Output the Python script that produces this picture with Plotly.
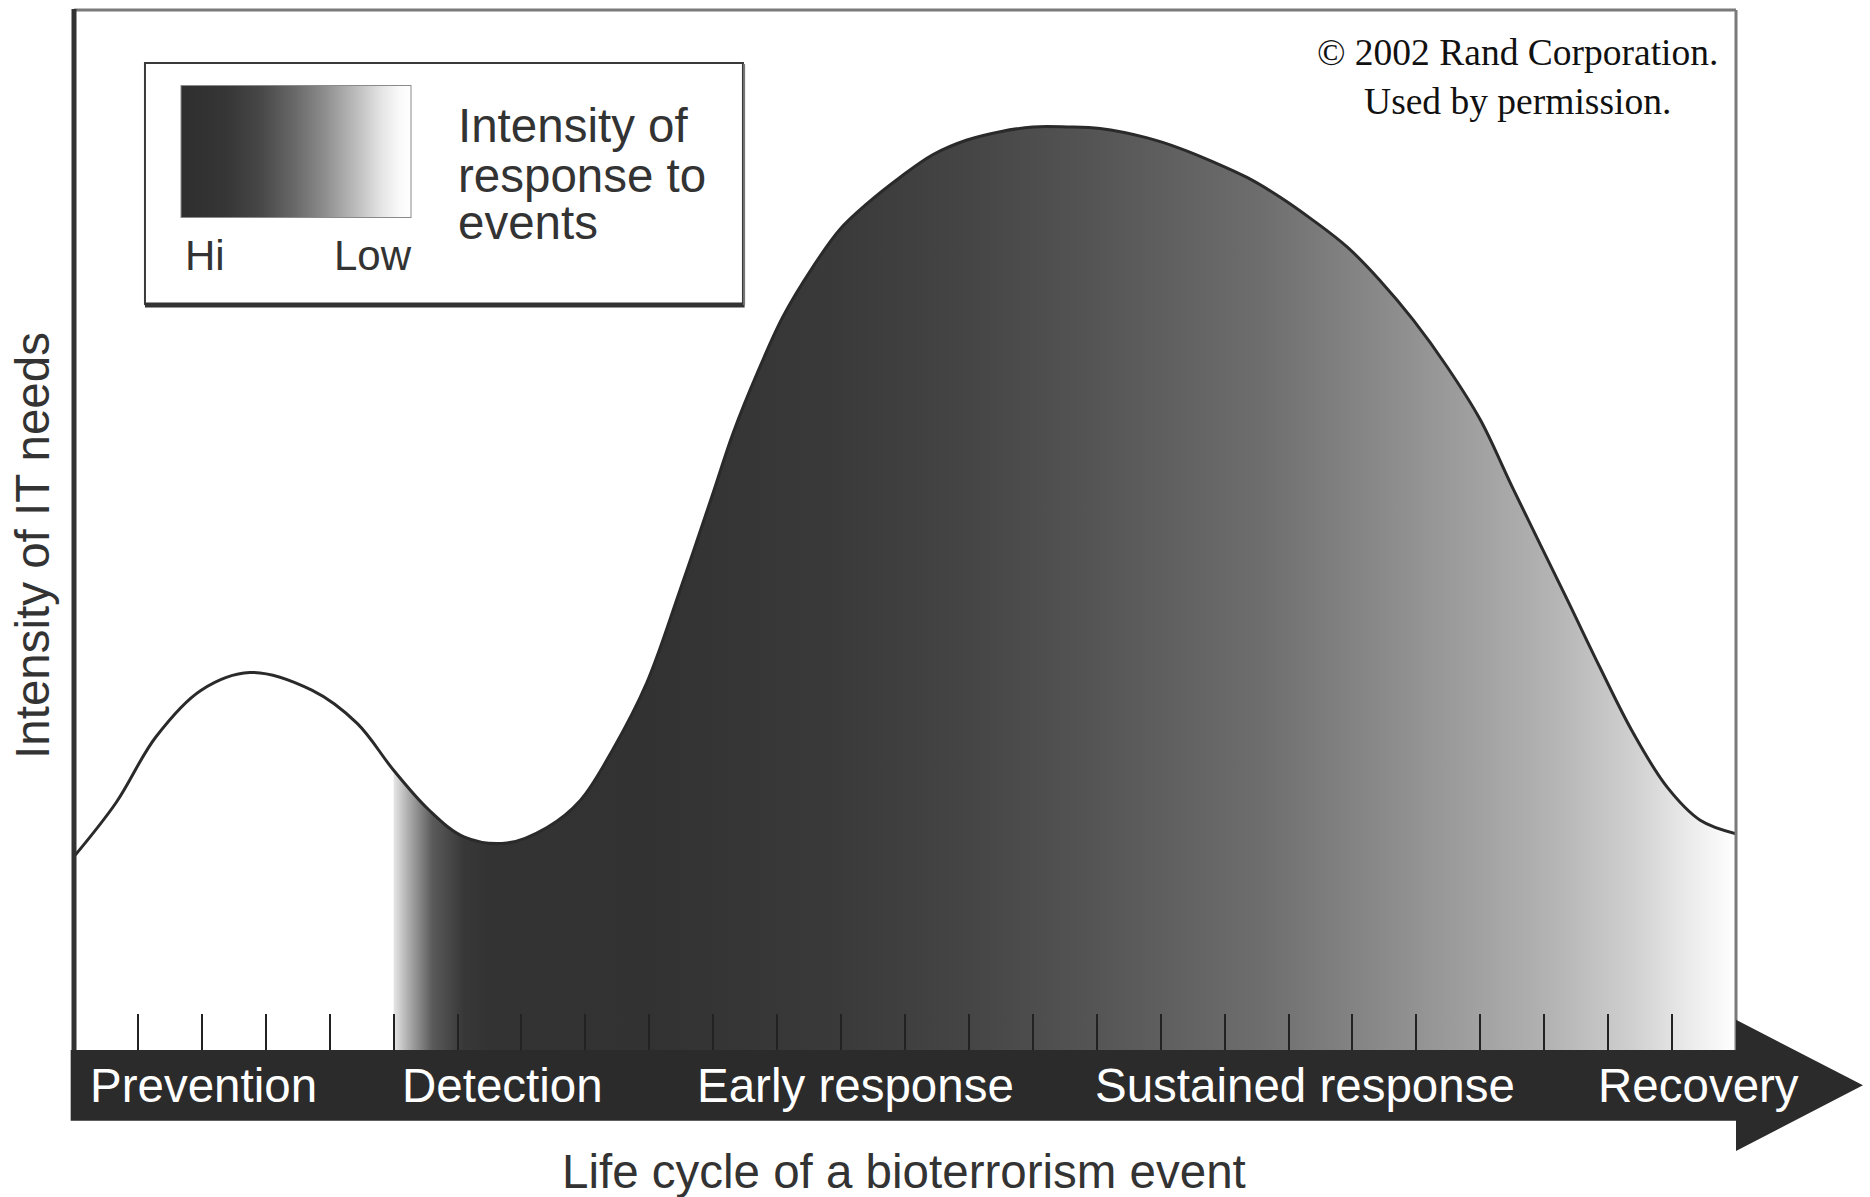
import plotly.graph_objects as go

# ---- data ----
curve_x = [0.0, 0.66, 1.28, 1.99, 2.75, 3.72, 4.43, 5.0, 5.55, 6.10, 6.77, 7.40, 7.92, 8.43,
           8.96, 9.48, 10.00, 10.31, 10.69, 11.09, 11.56, 11.98, 12.41, 12.92, 13.44, 13.97,
           14.49, 15.00, 15.54, 16.05, 16.79, 17.30, 17.82, 18.35, 18.87, 19.38, 19.92, 20.43,
           20.95, 21.48, 22.00, 22.51, 23.36, 23.87, 24.39, 24.92, 25.44, 26.0]
curve_y = [18.6, 23.8, 30.1, 34.6, 36.3, 34.6, 31.4, 26.9, 23.1, 20.5, 19.9, 21.4, 24.0, 28.9,
           35.3, 44.2, 53.6, 59.3, 65.1, 70.5, 75.3, 78.9, 81.4, 83.9, 86.1, 87.5,
           88.3, 88.75, 88.75, 88.6, 87.7, 86.7, 85.4, 83.9, 82.0, 79.8, 77.2, 74.0,
           70.2, 65.7, 60.6, 54.0, 43.3, 36.8, 30.5, 25.3, 22.1, 20.8]

response_onset = 5.0          # where the response shading starts (Detection)
phase_labels = ["Prevention", "Detection", "Early response", "Sustained response", "Recovery"]
phase_centers = [2.03, 6.70, 12.23, 19.26, 25.41]
tick_positions = [1, 2, 3, 4, 5, 6, 7, 8, 9, 10, 11, 12, 13, 14, 15, 16, 17, 18, 19, 20,
                  21, 22, 23, 24, 25]
legend_lines = ["Intensity of", "response to", "events"]
x_title = "Life cycle of a bioterrorism event"
y_title = "Intensity of IT needs"
credit = "© 2002 Rand Corporation.<br>Used by permission."

# ---- styles ----
fill_scale = [
    [0.0, "#e6e6e6"], [0.012, "#a8a8a8"], [0.029, "#5a5a5a"], [0.052, "#383838"],
    [0.071, "#333333"], [0.19, "#323232"], [0.333, "#3a3a3a"], [0.429, "#454545"],
    [0.524, "#555555"], [0.648, "#6e6e6e"], [0.771, "#959595"], [0.862, "#b3b3b3"],
    [0.924, "#d0d0d0"], [0.967, "#ececec"], [1.0, "#ffffff"],
]
swatch_scale = [
    [0.0, "#2e2e2e"], [0.2, "#363636"], [0.35, "#484848"], [0.5, "#6a6a6a"],
    [0.62, "#8c8c8c"], [0.75, "#b8b8b8"], [0.87, "#e4e4e4"], [0.95, "#fafafa"], [1.0, "#ffffff"],
]
SANS = "Liberation Sans, Arial, Helvetica, sans-serif"
SERIF = "Liberation Serif, Times New Roman, serif"
TXT = "#333333"
FS = 47.5

fill_x = [x for x in curve_x if x >= response_onset]
fill_y = [y for x, y in zip(curve_x, curve_y) if x >= response_onset]

fig = go.Figure()

fig.add_trace(go.Scatter(
    x=fill_x, y=fill_y, mode="lines", line=dict(width=0, shape="spline", smoothing=1.0),
    fill="tozeroy",
    fillgradient=dict(type="horizontal", colorscale=fill_scale,
                      start=response_onset, stop=max(curve_x)),
    hoverinfo="skip", showlegend=False,
))
fig.add_trace(go.Scatter(
    x=curve_x, y=curve_y, mode="lines",
    line=dict(color="#2a2a2a", width=3, shape="spline", smoothing=1.0),
    hoverinfo="skip", showlegend=False,
))
# intensity legend swatch (colour bar)
fig.add_trace(go.Scatter(
    x=[curve_x[0]], y=[curve_y[0]], mode="markers",
    marker=dict(color=[0], cmin=0, cmax=1, colorscale=swatch_scale, opacity=0, size=1,
                showscale=True,
                colorbar=dict(orientation="h", x=0.1336, xanchor="center",
                              y=0.8635, yanchor="middle",
                              lenmode="pixels", len=230, thicknessmode="pixels",
                              thickness=132, xpad=0, ypad=0,
                              outlinewidth=1, outlinecolor="#8a8a8a",
                              showticklabels=False, ticks="")),
    hoverinfo="skip", showlegend=False,
))

fig.update_xaxes(range=[0, 26], showgrid=False, zeroline=False, showline=False,
                 tickvals=tick_positions, ticks="inside", ticklen=36, tickwidth=2,
                 tickcolor="#222222", showticklabels=False, fixedrange=True)
fig.update_yaxes(range=[0, 100], showgrid=False, zeroline=False, showline=False,
                 showticklabels=False, ticks="", fixedrange=True)

shapes = [
    # frame
    dict(type="line", xref="paper", yref="paper", x0=0, x1=1, y0=1, y1=1,
         line=dict(color="#7a7a7a", width=3)),
    dict(type="line", xref="paper", yref="paper", x0=1, x1=1, y0=0, y1=1,
         line=dict(color="#7a7a7a", width=3)),
    dict(type="line", xref="paper", yref="paper", x0=0, x1=0, y0=-0.002, y1=1.001,
         line=dict(color="#333333", width=5)),
    # timeline arrow
    dict(type="path", xref="paper", yref="paper",
         path="M -0.002 0 L 1 0 L 1 0.029 L 1.0764 -0.034 L 1 -0.097 L 1 -0.068 L -0.002 -0.068 Z",
         fillcolor="#2b2b2b", line=dict(width=0), layer="above"),
    # legend box
    dict(type="rect", xref="paper", yref="paper", x0=0.0427, x1=0.4025, y0=0.7173, y1=0.949,
         line=dict(color="#3a3a3a", width=2)),
    dict(type="line", xref="paper", yref="paper", x0=0.0427, x1=0.4035, y0=0.7163, y1=0.7163,
         line=dict(color="#333333", width=5)),
    dict(type="line", xref="paper", yref="paper", x0=0.4032, x1=0.4032, y0=0.7163, y1=0.948,
         line=dict(color="#777777", width=2)),
]

annotations = []
for lab, cx in zip(phase_labels, phase_centers):
    annotations.append(dict(text=lab, x=cx, xref="x", y=-0.0337, yref="paper",
                            xanchor="center", yanchor="middle", showarrow=False,
                            font=dict(family=SANS, size=FS, color="#ffffff")))
annotations.append(dict(text=x_title, x=0.4994, y=-0.1173, xref="paper", yref="paper",
                        xanchor="center", yanchor="middle", showarrow=False,
                        font=dict(family=SANS, size=FS, color=TXT)))
annotations.append(dict(text=y_title, x=-0.0247, y=0.4856, xref="paper", yref="paper",
                        xanchor="center", yanchor="middle", showarrow=False, textangle=-90,
                        font=dict(family=SANS, size=FS, color=TXT)))
for line, ly in zip(legend_lines, [0.8885, 0.8413, 0.7952]):
    annotations.append(dict(text=line, x=0.2298, y=ly, xref="paper", yref="paper",
                            xanchor="left", yanchor="middle", showarrow=False,
                            font=dict(family=SANS, size=FS, color=TXT)))
annotations.append(dict(text="Hi", x=0.0788, y=0.7635, xref="paper", yref="paper",
                        xanchor="center", yanchor="middle", showarrow=False,
                        font=dict(family=SANS, size=42, color=TXT)))
annotations.append(dict(text="Low", x=0.18, y=0.7635, xref="paper", yref="paper",
                        xanchor="center", yanchor="middle", showarrow=False,
                        font=dict(family=SANS, size=42, color=TXT)))
annotations.append(dict(text=credit, x=0.8686, y=0.9356, xref="paper", yref="paper",
                        xanchor="center", yanchor="middle", showarrow=False, align="center",
                        font=dict(family=SERIF, size=37.5, color="#111111")))

fig.update_layout(
    width=1870, height=1197,
    margin=dict(l=74, r=134, t=10, b=147, pad=0),
    paper_bgcolor="#ffffff", plot_bgcolor="#ffffff",
    shapes=shapes, annotations=annotations, showlegend=False,
)

fig.write_html("out.html", config={"displayModeBar": False},
               post_script="document.body.style.margin='0';document.body.style.padding='0';")
